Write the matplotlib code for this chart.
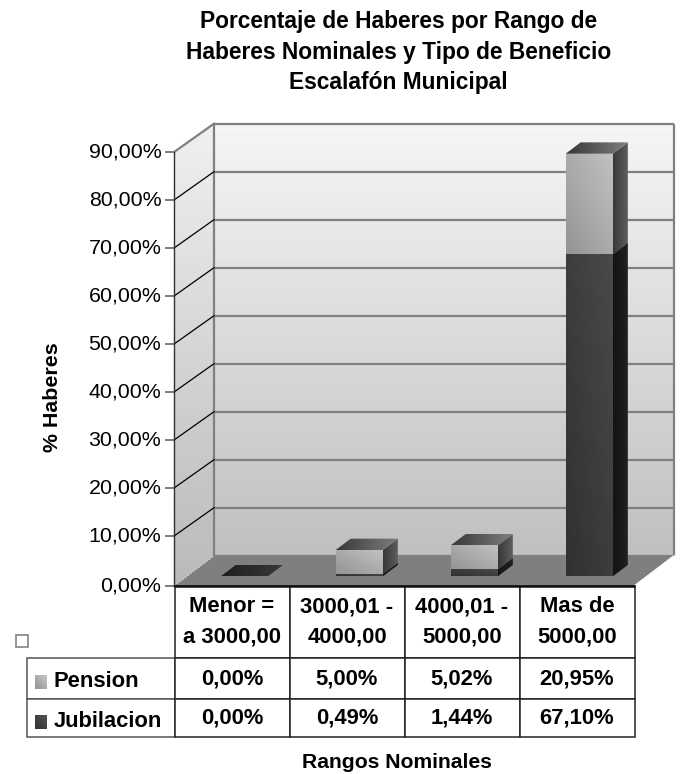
import matplotlib
matplotlib.use("Agg")
import matplotlib.pyplot as plt
import numpy as np
from matplotlib.patches import Polygon, Rectangle
from matplotlib.transforms import Affine2D

plt.rcParams['font.family'] = ['Liberation Sans', 'DejaVu Sans']

categories = ["Menor =\na 3000,00", "3000,01 -\n4000,00", "4000,01 -\n5000,00", "Mas de\n5000,00"]
pension = [0.00, 5.00, 5.02, 20.95]
jubilacion = [0.00, 0.49, 1.44, 67.10]
yticks = [0, 10, 20, 30, 40, 50, 60, 70, 80, 90]
title = "Porcentaje de Haberes por Rango de\nHaberes Nominales y Tipo de Beneficio\nEscalafón Municipal"
xlabel = "Rangos Nominales"
ylabel = "% Haberes"

W, H = 680, 774
fig = plt.figure(figsize=(W / 100, H / 100), dpi=100, facecolor='white')
L, R, B, T = 174.5, 634.5, 585.7, 153.7
ax = fig.add_axes([L / W, 1 - B / H, (R - L) / W, (B - T) / H])
ax.set_xlim(0, 4)
ax.set_ylim(0, 90)
ax.patch.set_visible(False)

DX = 39.5 / ((R - L) / 4)
DY = 30 / ((B - T) / 90)
LIFT = 2 / ((B - T) / 90)   # non-zero front ticks sit 2 px higher in the reference


def p(x, y, d=0.0):
    return (x + d * DX, y + d * DY)


def shaded(points, c0, c1, angle=90, z=1):
    """Polygon filled with a linear grey gradient from c0 to c1 along angle."""
    pts = np.array(points)
    x0, y0 = pts.min(axis=0)
    x1, y1 = pts.max(axis=0)
    if x1 == x0 or y1 == y0:
        return
    u, v = np.meshgrid(np.linspace(0, 1, 64), np.linspace(0, 1, 64))
    a = np.deg2rad(angle)
    t = u * np.cos(a) + v * np.sin(a)
    t = (t - t.min()) / max(t.max() - t.min(), 1e-9)
    g = c0 + (c1 - c0) * t
    im = ax.imshow(g, extent=(x0, x1, y0, y1), origin='lower', cmap='gray', vmin=0, vmax=1,
                   aspect='auto', zorder=z, interpolation='bilinear')
    clip = Polygon(pts, closed=True, transform=ax.transData, fc='none', ec='none')
    ax.add_patch(clip)
    clip.set_clip_on(False)
    im.set_clip_box(fig.bbox)
    im.set_clip_path(clip)


top = yticks[-1]
# walls and floor
shaded([p(0, 0, 1), p(4, 0, 1), p(4, top, 1), p(0, top, 1)], 0.75, 0.96, 90, z=1)
shaded([p(0, 0), p(0, 0, 1), p(0, top, 1), p(0, top + LIFT)], 0.73, 0.94, 90, z=1)
ax.add_patch(Polygon([p(0, 0), p(0, 0, 1), p(4, 0, 1), p(4, 0)], fc='#7f7f7f', ec='none', zorder=2, clip_on=False))

# wall outline and grid
grid = dict(color='#808080', lw=1.6, zorder=2, clip_on=False, solid_capstyle='butt')
for v in yticks[1:]:
    ax.plot(*zip(p(0, v, 1), p(4, v, 1)), **grid)
ax.plot(*zip(p(0, 0, 1), p(0, top, 1)), **grid)
ax.plot(*zip(p(4, 0, 1), p(4, top, 1)), **grid)
ax.plot(*zip(p(0, 0, 1), p(4, 0, 1)), **grid)
for v in yticks[1:-1]:
    ax.plot([0, DX], [v + LIFT, v + DY], color='black', lw=0.9, zorder=3, clip_on=False)
ax.plot([0, DX], [top + LIFT, top + DY], color='#808080', lw=1.6, zorder=3, clip_on=False)
ax.plot(*zip(p(0, 0), p(0, 0, 1)), color='#d8d8d8', lw=0.9, ls=':', zorder=3, clip_on=False)
ax.plot(*zip(p(4, 0), p(4, 0, 1)), color='white', lw=0.9, zorder=3, clip_on=False)

# stacked bars
bw, d0, d1 = 0.41, 0.31, 0.69


def box(i, y0, y1, front, side, roof, z):
    c = i + 0.5
    x0, x1 = c - bw / 2, c + bw / 2
    f = [p(x0, y0, d0), p(x1, y0, d0), p(x1, y1, d0), p(x0, y1, d0)]
    s = [p(x1, y0, d0), p(x1, y0, d1), p(x1, y1, d1), p(x1, y1, d0)]
    r = [p(x0, y1, d0), p(x1, y1, d0), p(x1, y1, d1), p(x0, y1, d1)]
    shaded(s, side[0], side[1], 0, z=z)
    shaded(r, roof[0], roof[1], 0, z=z)
    if y1 > y0:
        shaded(f, front[0], front[1], 45, z=z + 0.1)


for i in range(len(categories)):
    j, q = jubilacion[i], pension[i]
    z = 4 + i
    box(i, 0, j, (0.19, 0.29), (0.08, 0.13), (0.12, 0.22), z)
    if q > 0:
        box(i, j, j + q, (0.58, 0.76), (0.22, 0.38), (0.22, 0.50), z + 0.2)

# y axis
ax.set_yticks(yticks)
ax.set_yticklabels([f"{v:.2f}%".replace('.', ',') for v in yticks], fontsize=15.4)
ax.tick_params(axis='y', length=6.5, width=1.2, color='#666666', pad=3.0)
ax.set_xticks([])
for v, tick, lab in zip(yticks, ax.yaxis.get_major_ticks(), ax.get_yticklabels()):
    up = 2 if v else 0
    tick.tick1line.set_transform(tick.tick1line.get_transform() + Affine2D().translate(0, up))
    lab.set_transform(lab.get_transform() + Affine2D().translate(0, up + 1.5))
for k in ('top', 'right', 'bottom'):
    ax.spines[k].set_visible(False)
ax.spines['left'].set_color('#303030')
ax.spines['left'].set_linewidth(1.0)
ax.spines['left'].set_zorder(3.5)
ax.spines['left'].set_bounds(0, top + LIFT)

# data table beneath the axes
rows = ["Pension", "Jubilacion"]
cells = [[f"{v:.2f}%".replace('.', ',') for v in s] for s in (pension, jubilacion)]
tbl = ax.table(cellText=cells, rowLabels=rows, colLabels=categories, cellLoc='center', rowLoc='left',
               colWidths=[0.25] * 4,
               bbox=[0, -(737.3 - B) / (B - T), 1, (737.3 - B) / (B - T)])
tbl.auto_set_font_size(False)
heights = {0: 72, 1: 41.6, 2: 38}
for (r, c), cell in tbl.get_celld().items():
    cell.set_height(heights[r])
    cell.set_linewidth(1.1)
    cell.set_edgecolor('#222222' if c >= 0 else '#555555')
    cell.get_text().set_fontweight('bold')
    cell.get_text().set_fontsize(15.8)
    if c == -1:
        cell.set_width(0.986 * 0.25 * (L - 29) / ((R - L) / 4))
        cell.PAD = 0.179
        cell.get_text().set_transform(Affine2D().translate(0, -3))
    else:
        cell.PAD = 0.02
    if r == 0:
        cell.get_text().set_linespacing(1.55)
tbl.set_zorder(3)
ax.plot([0, 4], [0, 0], color='#111111', lw=1.8, zorder=12, clip_on=False, solid_capstyle='butt')

# legend keys drawn in figure pixels


def key(x, y, c0, c1):
    g = np.linspace(0, 1, 32)
    m = c0 + (c1 - c0) * (np.add.outer(g, g) / 2)
    a = fig.add_axes([x / W, 1 - (y + 14) / H, 12 / W, 14 / H])
    a.imshow(m, cmap='gray', vmin=0, vmax=1, aspect='auto', origin='lower')
    a.axis('off')


key(35, 675, 0.58, 0.78)
key(35, 715, 0.19, 0.33)
fig.add_artist(Rectangle((15.5 / W, 1 - 647 / H), 12 / W, 12 / H, transform=fig.transFigure,
                         fc='white', ec='#8c8c8c', lw=1.3))

# titles
fig.text(398.5 / W, 1 - 52 / H, title, ha='center', va='center', fontweight='bold', fontsize=16.4, linespacing=1.43)
fig.text(397 / W, 1 - 762 / H, xlabel, ha='center', va='center', fontweight='bold', fontsize=15.2)
fig.text(52 / W, 1 - 397 / H, ylabel, ha='center', va='center', rotation=90, fontweight='bold', fontsize=15.4)

fig.savefig('out.png', dpi=100)
